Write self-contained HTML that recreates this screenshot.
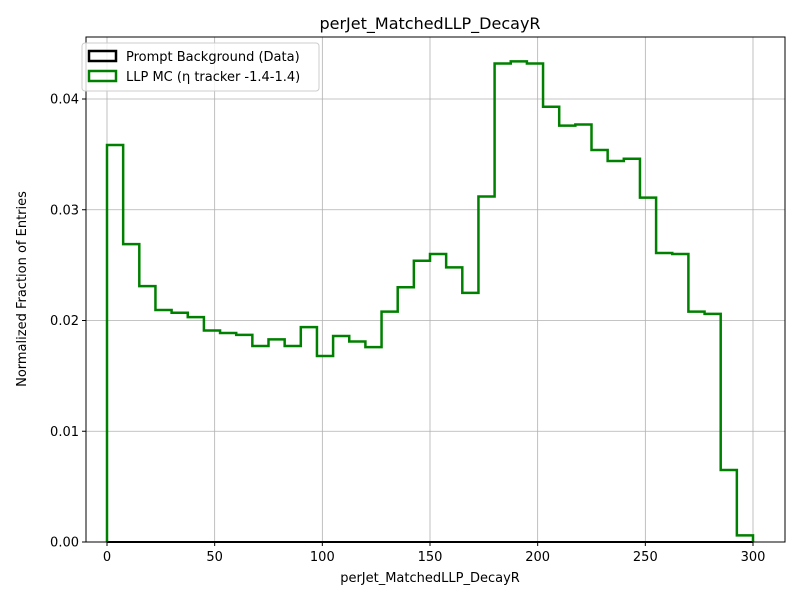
<!DOCTYPE html>
<html><head><meta charset="utf-8"><style>
html,body{margin:0;padding:0;background:#fff;}
svg{display:block;font-family:"DejaVu Sans","Liberation Sans",sans-serif;}
</style></head><body>
<svg id="chart" width="800" height="600" viewBox="0 0 800 600">
<text x="430" y="29" text-anchor="middle" font-size="16">perJet_MatchedLLP_DecayR</text>
<text x="430" y="582" text-anchor="middle" font-size="13">perJet_MatchedLLP_DecayR</text>
<text x="26" y="289" text-anchor="middle" font-size="13" transform="rotate(-90 26 289)">Normalized Fraction of Entries</text>
<g id="grid"></g>
<g id="ticks"></g>
<g id="series"></g>
<rect x="86" y="37" width="699" height="505" fill="none" stroke="#000" stroke-width="1"/>
<g>
<rect x="82" y="43" width="237" height="48" rx="3" fill="#fff" fill-opacity="0.8" stroke="#ccc"/>
<g>
<rect x="89" y="51" width="27" height="10" fill="none" stroke="#000" stroke-width="2.5"/>
<text x="126" y="61" font-size="13">Prompt Background (Data)</text></g>
<g>
<rect x="89" y="71" width="27" height="10" fill="none" stroke="#008000" stroke-width="2.5"/>
<text x="126" y="81" font-size="13">LLP MC (η tracker -1.4-1.4)</text></g>
</g>
</svg>
<script>
const binEdgesStart = 0;
const binWidth = 7.5;
const llpValues = [0.03585,0.0269,0.0231,0.02095,0.0207,0.0203,0.0191,0.01887,0.0187,0.0177,0.0183,0.0177,0.0194,0.0168,0.0186,0.0181,0.0176,0.0208,0.0230,0.0254,0.0260,0.0248,0.0225,0.0312,0.0432,0.0434,0.0432,0.0393,0.0376,0.0377,0.0354,0.0344,0.0346,0.0311,0.0261,0.0260,0.0208,0.0206,0.0065,0.0006];
const bkgValues = new Array(40).fill(0);
const xTicks = [0,50,100,150,200,250,300];
const yTicks = [0,0.01,0.02,0.03,0.04];
const yTickLabels = ["0.00","0.01","0.02","0.03","0.04"];

const NS="http://www.w3.org/2000/svg";
const xs = v => 107 + v*(753-107)/300;
const ys = v => 542 - v*(542-99)/0.04;
function mk(tag, attrs, parent){const e=document.createElementNS(NS,tag);for(const k in attrs)e.setAttribute(k,attrs[k]);parent.appendChild(e);return e;}
const grid=document.getElementById('grid'), ticks=document.getElementById('ticks'), series=document.getElementById('series');
xTicks.forEach(t=>{
  const x=xs(t);
  const g=mk('line',{x1:x,x2:x,y1:37,y2:542,stroke:'#b0b0b0','stroke-width':0.8},grid);
  
  
  mk('line',{x1:x,x2:x,y1:542,y2:546,stroke:'#000'},ticks);
  const l=mk('text',{x:x,y:561,'text-anchor':'middle','font-size':13},ticks);
  l.textContent=t;
  
  
});
yTicks.forEach((t,i)=>{
  const y=ys(t);
  const g=mk('line',{x1:86,x2:785,y1:y,y2:y,stroke:'#b0b0b0','stroke-width':0.8},grid);
  
  
  mk('line',{x1:82,x2:86,y1:y,y2:y,stroke:'#000'},ticks);
  const l=mk('text',{x:79,y:y+4.5,'text-anchor':'end','font-size':13},ticks);
  l.textContent=yTickLabels[i];
  
  
});
function stepPath(vals){
  let d='M'+xs(binEdgesStart)+','+ys(0);
  vals.forEach((v,i)=>{
    const x0=xs(binEdgesStart+i*binWidth), x1=xs(binEdgesStart+(i+1)*binWidth);
    d+=' L'+x0+','+ys(v)+' L'+x1+','+ys(v);
  });
  d+=' L'+xs(binEdgesStart+vals.length*binWidth)+','+ys(0);
  return d;
}
const pb=mk('path',{d:stepPath(bkgValues),fill:'none',stroke:'#000','stroke-width':2},series);


const pl=mk('path',{d:stepPath(llpValues),fill:'none',stroke:'#008000','stroke-width':2.5},series);


</script>
</body></html>
